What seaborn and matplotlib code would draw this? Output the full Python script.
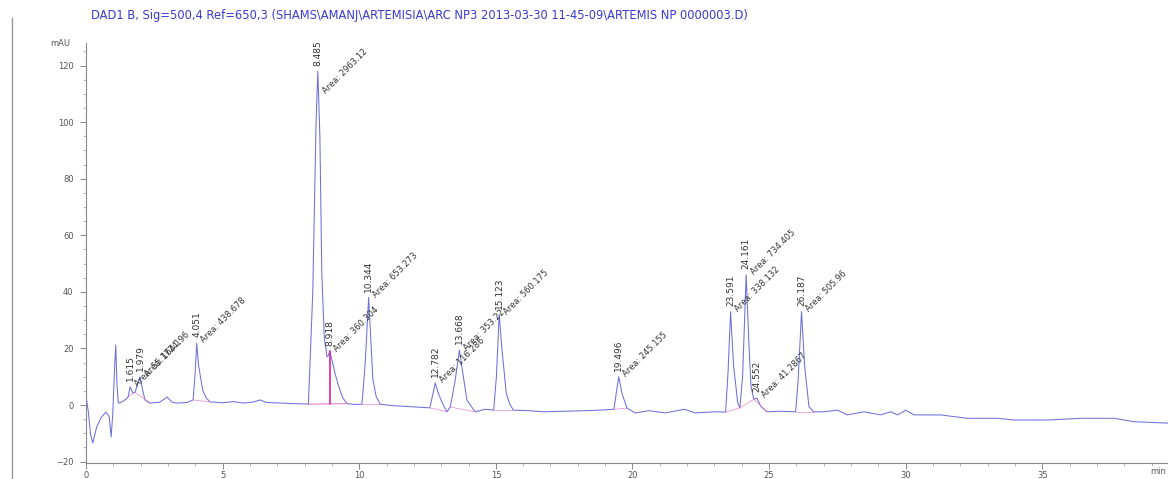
import numpy as np
import pandas as pd
import matplotlib
matplotlib.use("Agg")
import matplotlib.pyplot as plt
import seaborn as sns
from matplotlib.ticker import MultipleLocator
from matplotlib.lines import Line2D

# ---- detector trace (time in min, signal in mAU), apexes listed separately ----
trace_t = [0.00, 0.08, 0.17, 0.25, 0.39, 0.55, 0.73, 0.85, 0.92, 0.98, 1.05, 1.09, 1.13,
           1.18, 1.30, 1.45, 1.54, 1.72, 1.80, 1.90, 2.08, 2.16, 2.34, 2.70, 2.97, 3.15,
           3.32, 3.70, 3.92, 4.00, 4.12, 4.27, 4.40, 4.54, 5.00, 5.40, 5.75, 6.10, 6.37,
           6.60, 7.10, 7.60, 8.00, 8.14, 8.30, 8.42, 8.56, 8.63, 8.72, 8.82, 8.87, 9.00,
           9.12, 9.25, 9.40, 9.55, 9.80, 10.10, 10.22, 10.42, 10.50, 10.62, 10.77, 11.20,
           11.70, 12.20, 12.58, 12.70, 12.90, 13.05, 13.21, 13.33, 13.50, 13.78, 13.94,
           14.10, 14.25, 14.60, 14.92, 15.02, 15.22, 15.38, 15.50, 15.64, 16.20, 16.74,
           17.50, 18.30, 18.83, 19.32, 19.42, 19.62, 19.80, 20.10, 20.60, 21.20, 21.90,
           22.30, 23.00, 23.41, 23.50, 23.70, 23.85, 23.93, 24.03, 24.26, 24.34, 24.44,
           24.70, 24.93, 25.40, 25.97, 26.06, 26.30, 26.46, 26.64, 27.00, 27.50, 27.86,
           28.47, 29.08, 29.45, 29.70, 30.00, 30.30, 31.28, 32.26, 33.36, 33.96, 35.19,
           36.41, 37.63, 38.36, 39.60]
trace_v = [3.0, -2.0, -10.6, -13.4, -7.8, -4.5, -2.5, -4.2, -11.3, -3.0, 14.0, 21.2, 8.0,
           0.7, 1.0, 2.0, 2.8, 4.2, 4.5, 8.0, 5.0, 1.8, 0.7, 1.0, 2.8, 1.0,
           0.7, 0.9, 1.8, 12.0, 14.0, 5.3, 2.5, 1.1, 0.8, 1.2, 0.7, 1.0, 1.8,
           0.9, 0.7, 0.5, 0.4, 0.3, 40.0, 100.0, 95.0, 46.6, 24.0, 17.0, 17.5, 16.0,
           11.0, 6.5, 2.5, 0.5, 0.2, 0.3, 15.0, 24.0, 9.0, 3.0, 0.3, -0.2,
           -0.5, -0.8, -1.0, 4.0, 4.0, 0.5, -2.4, -0.7, 8.0, 12.0, 1.8,
           -0.5, -2.4, -1.5, -1.8, 10.0, 20.0, 4.2, 0.5, -1.8, -2.0, -2.4,
           -2.2, -2.0, -1.8, -1.5, 5.0, 4.0, -1.1, -2.8, -2.0, -2.8, -1.5,
           -2.8, -2.4, -2.5, 12.0, 14.0, 1.0, -1.0, 10.0, 22.0, 6.5, 2.0,
           -0.5, -2.4, -2.2, -2.4, 8.0, 14.0, -0.6, -2.4, -2.4, -1.8, -3.5,
           -2.4, -3.5, -2.4, -3.5, -1.8, -3.5, -3.5, -4.7, -4.7, -5.3, -5.3,
           -4.7, -4.7, -5.9, -6.4]

# ---- integrated peaks ----
peak_rt = [1.615, 1.979, 4.051, 8.485, 8.918, 10.344, 12.782, 13.668, 15.123,
           19.496, 23.591, 24.161, 24.552, 26.187]
peak_height = [6.4, 9.9, 21.9, 118.0, 19.0, 38.0, 7.8, 19.4, 32.0,
               10.0, 33.0, 46.0, 2.5, 33.0]
peak_area = ["55.1724", "164.196", "438.678", "2963.12", "360.304", "653.273", "116.286",
             "353.22", "560.175", "245.155", "338.132", "734.405", "41.2867", "505.96"]
peak_start = [1.54, 1.80, 3.92, 8.14, 8.14, 10.10, 12.58, 13.33, 14.92,
              19.32, 23.41, 23.93, 24.44, 25.97]
peak_end = [1.72, 2.34, 4.54, 9.55, 9.55, 10.77, 13.21, 14.25, 15.64,
            19.80, 23.93, 24.44, 24.93, 26.64]
drop_peak = 8.918

title = ("DAD1 B, Sig=500,4 Ref=650,3 (SHAMS\\AMANJ\\ARTEMISIA\\ARC NP3 "
         "2013-03-30 11-45-09\\ARTEMIS NP 0000003.D)")

df = pd.DataFrame({"t": trace_t + peak_rt, "v": trace_v + peak_height}).sort_values("t")

sns.set_style("ticks")
plt.rcParams["font.family"] = ["DejaVu Sans"]

W, H = 1168, 479
fig = plt.figure(figsize=(W / 100, H / 100), dpi=100)
ax = fig.add_axes([86 / W, 16 / H, (W - 86) / W, 420 / H])

trace_color = "#6f6fdc"
sns.lineplot(data=df, x="t", y="v", ax=ax, color=trace_color, lw=0.75,
             estimator=None, sort=False)

# integration baselines
for s, e in zip(peak_start, peak_end):
    ys = np.interp([s, e], df["t"], df["v"])
    ax.plot([s, e], ys, color="#e070c0", lw=0.6, alpha=0.7)

# drop line separating the shoulder peak from the main peak
i = peak_rt.index(drop_peak)
ends = np.interp([peak_start[i], peak_end[i]], df["t"], df["v"])
base = np.interp(drop_peak, [peak_start[i], peak_end[i]], ends)
ax.plot([drop_peak, drop_peak], [base, peak_height[i]], color="#e020a0", lw=1.2)

# retention time and area annotations
for rt, h, a in zip(peak_rt, peak_height, peak_area):
    ax.text(rt, h + 2.0, f"{rt:.3f}", rotation=90, rotation_mode="anchor",
            ha="left", va="center", fontsize=6.5, color="#333333")
    ax.text(rt + 0.22, min(h, 110) + 0.5, f"Area: {a}", rotation=45,
            rotation_mode="anchor", ha="left", va="center", fontsize=6,
            color="#333333")

ax.set_xlim(0, 39.6)
ax.set_ylim(-20.5, 128)
ax.xaxis.set_major_locator(MultipleLocator(5))
ax.xaxis.set_minor_locator(MultipleLocator(1))
ax.yaxis.set_major_locator(MultipleLocator(20))
ax.yaxis.set_minor_locator(MultipleLocator(5))
ax.set_xlabel("")
ax.set_ylabel("")
for side in ("top", "right"):
    ax.spines[side].set_visible(False)
for side in ("left", "bottom"):
    ax.spines[side].set_color("#888888")
    ax.spines[side].set_linewidth(0.8)
ax.tick_params(which="major", length=4, width=0.7, colors="#888888",
               labelsize=6, labelcolor="#555555")
ax.tick_params(axis="y", which="major", pad=5)
ax.tick_params(axis="x", which="major", pad=1.5)
ax.tick_params(which="minor", length=2, width=0.5, colors="#999999")

fig.text(91 / W, 1 - 16 / H, title, fontsize=8.3, color="#3a3ad0", ha="left", va="center")
fig.text(60 / W, 1 - 43 / H, "mAU", fontsize=6, color="#555555", ha="center", va="center")
fig.text(1158 / W, 1 - 472 / H, "min", fontsize=6, color="#555555", ha="center", va="center")
fig.add_artist(Line2D([12 / W, 12 / W], [0, 1 - 18 / H], color="#999999", lw=1.0))

fig.savefig("out.png", dpi=100, facecolor="white")
